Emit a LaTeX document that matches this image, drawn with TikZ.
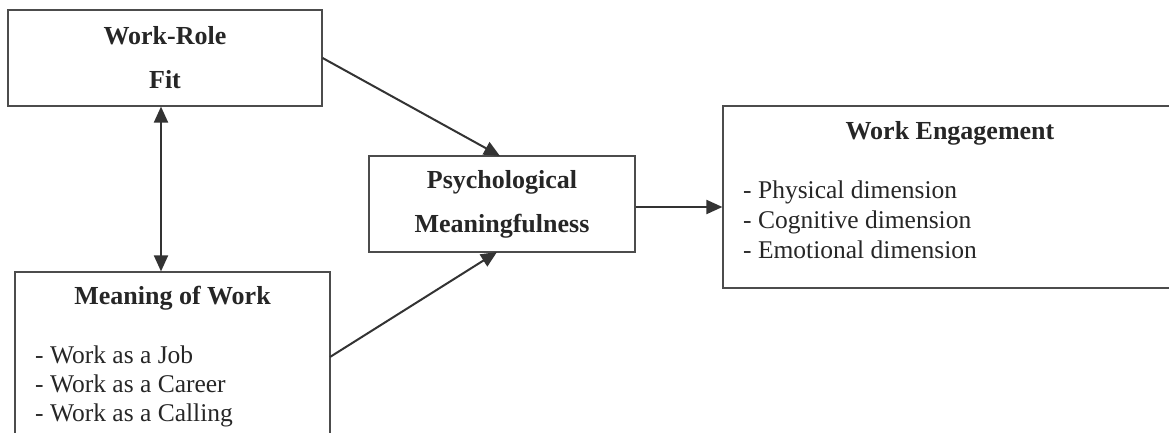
\documentclass[tikz,border=0pt]{standalone}
\usepackage{fontspec}
\setmainfont{Liberation Serif}
\usetikzlibrary{arrows.meta}
\begin{document}
\begin{tikzpicture}[x=1pt,y=-1pt,
  box/.style={draw=black!70, line width=1.2pt, rectangle, inner sep=0pt},
  ttl/.style={font=\bfseries\fontsize{26}{44}\selectfont, text=black!85, align=center},
  item/.style={font=\fontsize{25.5}{28}\selectfont, text=black!85, anchor=base west, inner sep=0pt},
  tip/.style={Triangle[length=16pt,width=14pt]},
  conn/.style={draw=black!80, line width=2pt, -{Triangle[length=16pt,width=14pt]}},
  dconn/.style={draw=black!80, line width=2pt, {Triangle[length=16pt,width=14pt]}-{Triangle[length=16pt,width=14pt]}}]
\useasboundingbox (0,0) rectangle (1169,433);
% boxes
\node[box, ttl, minimum width=314pt, minimum height=96pt] (wr) at (165,58) {Work-Role\\Fit};
\node[box, minimum width=315pt, minimum height=173pt] (mw) at (172.5,358.5) {};
\node[box, ttl, minimum width=266pt, minimum height=96pt] (pm) at (502,204) {Psychological\\Meaningfulness};
\node[box, minimum width=457pt, minimum height=182pt] (we) at (951.5,197) {};
% texts
\node[ttl] (mwt) at (172.5,298) {Meaning of Work};
\node[item] (mw1) at (35,363) {- Work as a Job};
\node[item] (mw2) at (35,392) {- Work as a Career};
\node[item] (mw3) at (35,421) {- Work as a Calling};
\node[ttl] (wet) at (950,133) {Work Engagement};
\node[item] (we1) at (743,198) {- Physical dimension};
\node[item] (we2) at (743,228) {- Cognitive dimension};
\node[item] (we3) at (743,258) {- Emotional dimension};
% connectors
\coordinate (mwout) at (330,357);
\coordinate (pmin1) at (500,156);
\coordinate (pmin2) at (497,252);
\draw[conn] (wr.east) -- (pmin1);
\draw[conn] (mwout) -- (pmin2);
\draw[dconn] ([xshift=-4pt]wr.south) -- ([xshift=-4pt]wr.south |- mw.north);
\draw[conn] ([yshift=-3pt]pm.east) -- ([yshift=-3pt]pm.east -| we.west);
\end{tikzpicture}
\end{document}
